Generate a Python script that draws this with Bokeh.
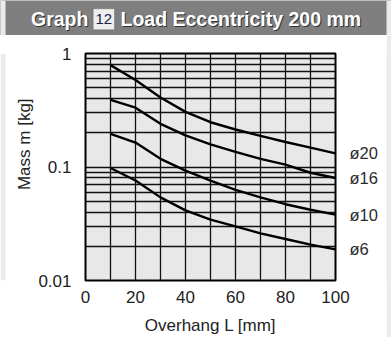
import math
from bokeh.plotting import figure
from bokeh.layouts import column, row
from bokeh.models import Label, FixedTicker, CustomJSTickFormatter, LogAxis, BoxAnnotation
from bokeh.embed import file_html
from bokeh.resources import INLINE

# ---- data ----
overhang = [10, 20, 30, 40, 50, 60, 70, 80, 90, 100]
mass_d20 = [0.79, 0.585, 0.41, 0.306, 0.248, 0.214, 0.188, 0.166, 0.148, 0.132]
mass_d16 = [0.39, 0.333, 0.24, 0.19, 0.158, 0.136, 0.118, 0.105, 0.089, 0.080]
mass_d10 = [0.196, 0.164, 0.118, 0.093, 0.076, 0.063, 0.054, 0.047, 0.042, 0.038]
mass_d6 = [0.098, 0.076, 0.054, 0.0415, 0.0344, 0.030, 0.026, 0.0232, 0.0207, 0.0188]
series = [mass_d20, mass_d16, mass_d10, mass_d6]
series_labels = ["ø20", "ø16", "ø10", "ø6"]

x_ticks = [0, 20, 40, 60, 80, 100]
x_grid = [0, 10, 20, 30, 40, 50, 60, 70, 80, 90, 100]
y_ticks = [0.01, 0.1, 1]
y_grid = [0.01, 0.02, 0.03, 0.04, 0.05, 0.06, 0.07, 0.08, 0.09,
          0.1, 0.2, 0.3, 0.4, 0.5, 0.6, 0.7, 0.8, 0.9, 1]

title_left = "Graph"
title_badge = "12"
title_right = "Load Eccentricity 200 mm"
x_label = "Overhang L [mm]"
y_label = "Mass m [kg]"

FONT = "Liberation Sans"
TOTAL_W = 391
TOTAL_H = 337
TITLE_H = 35
MAIN_H = TOTAL_H - TITLE_H
YLAB_W = 35
STRIP_W = 5
STRIP_COLOR = "#ebebeb"
BAR_COLOR = "#7f7f7f"


def bare(w, h, bg):
    fig = figure(width=w, height=h, x_range=(0, w), y_range=(0, h),
                 title=None, x_axis_location=None, y_axis_location=None,
                 output_backend="svg", toolbar_location=None,
                 min_border_left=0, min_border_right=0,
                 min_border_top=0, min_border_bottom=0)
    fig.grid.visible = False
    fig.outline_line_color = None
    fig.min_border = 0
    fig.background_fill_color = bg
    fig.border_fill_color = bg
    return fig


# ---- title bar ----
tb = bare(TOTAL_W, TITLE_H, BAR_COLOR)
for l, r in ((0, STRIP_W), (TOTAL_W - STRIP_W, TOTAL_W)):
    tb.add_layout(BoxAnnotation(left=l, right=r, bottom=0, top=TITLE_H,
                                fill_color=STRIP_COLOR, fill_alpha=1, line_color=None))
tb.add_layout(BoxAnnotation(left=92.7, right=114, top=26.7, bottom=5.7,
                            fill_color="#eeeeee", fill_alpha=1,
                            line_color="#444444", line_width=1))
tb.add_layout(Label(x=103.3, y=16.2, text=title_badge, text_font=FONT,
                    text_font_size="15px", text_color="#202050",
                    text_align="center", text_baseline="middle"))
TITLE_MID = 16.8
for txt, xx in ((title_left, 30.5), (title_right, 120)):
    tb.add_layout(Label(x=xx + 1, y=TITLE_MID - 1, text=txt, text_font=FONT,
                        text_font_size="19.5px", text_font_style="bold",
                        text_color="#333333", text_align="left", text_baseline="middle"))
    tb.add_layout(Label(x=xx, y=TITLE_MID, text=txt, text_font=FONT,
                        text_font_size="19.5px", text_font_style="bold",
                        text_color="white", text_align="left", text_baseline="middle"))

# ---- y-axis title strip ----
yl = bare(YLAB_W, MAIN_H, "white")
yl.add_layout(BoxAnnotation(left=0, right=STRIP_W, bottom=0, top=MAIN_H,
                            fill_color=STRIP_COLOR, fill_alpha=1, line_color=None))
yl.add_layout(Label(x=23.5, y=MAIN_H - (155.7 - TITLE_H), text=y_label, angle=math.pi / 2,
                    text_font=FONT, text_font_size="17px", text_color="#222222",
                    text_align="center", text_baseline="middle"))

# ---- right border strip ----
rs = bare(STRIP_W, MAIN_H, STRIP_COLOR)

# ---- main chart ----
P_W = TOTAL_W - YLAB_W - STRIP_W
p = figure(width=P_W, height=MAIN_H, x_range=(0, 100), y_range=(0.01, 1),
           y_axis_type="log", title=None, output_backend="svg", toolbar_location=None,
           min_border_left=78 - YLAB_W, min_border_right=P_W - (335 - YLAB_W),
           min_border_top=53 - TITLE_H, min_border_bottom=MAIN_H - (285 - TITLE_H))

p.background_fill_color = "#e8e8e8"
p.border_fill_color = "white"
p.outline_line_color = "black"
p.outline_line_width = 2
p.outline_line_alpha = 1

p.xgrid.ticker = FixedTicker(ticks=x_grid)
p.ygrid.ticker = FixedTicker(ticks=y_grid)
for g in (p.xgrid, p.ygrid):
    g.grid_line_color = "#111111"
    g.grid_line_width = 1.3
    g.grid_line_alpha = 1

p.xaxis.ticker = FixedTicker(ticks=x_ticks)
p.yaxis.ticker = FixedTicker(ticks=y_ticks)
p.yaxis.formatter = CustomJSTickFormatter(code="return tick.toString();")

ends = [vals[-1] for vals in series]
right_axis = LogAxis(
    ticker=FixedTicker(ticks=ends),
    formatter=CustomJSTickFormatter(
        args=dict(vals=ends, names=series_labels),
        code="""
        let best = 0;
        for (let i = 1; i < vals.length; i++) {
          if (Math.abs(Math.log(vals[i]) - Math.log(tick)) <
              Math.abs(Math.log(vals[best]) - Math.log(tick))) best = i;
        }
        return names[best];
        """))
p.add_layout(right_axis, "right")

for ax in (p.xaxis[0], p.yaxis[0], right_axis):
    ax.axis_line_color = None
    ax.major_tick_line_color = None
    ax.minor_tick_line_color = None
    ax.major_label_text_font = FONT
    ax.major_label_text_font_size = "17px"
    ax.major_label_text_color = "#222222"
p.xaxis.major_label_standoff = 4
p.yaxis[0].major_label_standoff = 8
right_axis.major_label_standoff = 8
right_axis.major_label_text_font_size = "16.5px"
right_axis.major_label_text_color = "#2b2b2b"

p.xaxis.axis_label = x_label
p.xaxis.axis_label_text_font = FONT
p.xaxis.axis_label_text_font_size = "17px"
p.xaxis.axis_label_text_font_style = "normal"
p.xaxis.axis_label_text_color = "#222222"
p.xaxis.axis_label_standoff = 10

for vals in series:
    p.line(overhang, vals, line_color="black", line_width=2.4)

layout = column(tb, row(yl, p, rs, spacing=0), spacing=0)

open("out.html", "w").write(file_html(layout, INLINE))
